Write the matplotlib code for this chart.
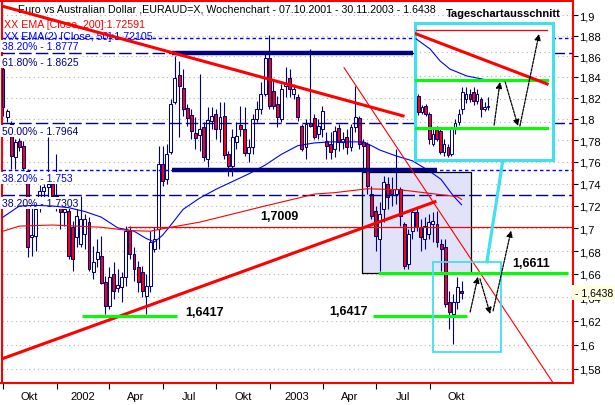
import numpy as np
import pandas as pd
import matplotlib.pyplot as plt
from matplotlib.patches import Rectangle
from matplotlib.ticker import NullLocator

plt.rcParams['font.family'] = ['Liberation Sans', 'DejaVu Sans']

start = pd.Timestamp('2001-10-01')  # first weekly candle

# weekly candles EUR/AUD
opens = [1.8478, 1.8019, 1.7953, 1.7646, 1.7794, 1.7748, 1.7518, 1.6927, 1.6936, 1.7194,
         1.7337, 1.7373, 1.7400, 1.7292, 1.7194, 1.7149, 1.7158, 1.7016, 1.6927, 1.6865,
         1.6953, 1.7060, 1.6619, 1.6733, 1.6759, 1.6532, 1.6326, 1.6602, 1.6480, 1.6489,
         1.6576, 1.6980, 1.6777, 1.6663, 1.6619, 1.6412, 1.6497, 1.6821, 1.6998, 1.7582,
         1.7445, 1.7692, 1.8161, 1.8419, 1.8294, 1.8104, 1.8038, 1.7869, 1.7850, 1.7925,
         1.7628, 1.7981, 1.8047, 1.7906, 1.8028, 1.7674, 1.7564, 1.7785, 1.7944, 1.7906,
         1.7683, 1.7739, 1.8000, 1.8095, 1.8237, 1.8584, 1.8266, 1.8142, 1.8000, 1.8314,
         1.8391, 1.8237, 1.8209, 1.7934, 1.7739, 1.7962, 1.8009, 1.7859, 1.7906, 1.7794,
         1.7766, 1.7720, 1.7915, 1.7785, 1.7831, 1.7739, 1.7925, 1.8009, 1.7785, 1.7766,
         1.7310, 1.7158, 1.6909, 1.7176, 1.7400, 1.7355, 1.7310, 1.7355, 1.7042, 1.6689,
         1.6980, 1.7149, 1.7016, 1.6909, 1.6953, 1.7042, 1.7042, 1.6865, 1.6838, 1.6360,
         1.6257, 1.6360, 1.6454]
highs = [1.8497, 1.8095, 1.7981, 1.7813, 1.7822, 1.7794, 1.7536, 1.7221, 1.7221, 1.7391,
         1.7400, 1.7831, 1.7445, 1.7674, 1.7203, 1.7203, 1.7194, 1.7069, 1.7176, 1.7292,
         1.7131, 1.7105, 1.6847, 1.6909, 1.6936, 1.6584, 1.6663, 1.6706, 1.6645, 1.6619,
         1.7024, 1.7024, 1.6838, 1.6715, 1.6671, 1.6602, 1.6980, 1.7016, 1.7748, 1.7748,
         1.7766, 1.8189, 1.8604, 1.8555, 1.8478, 1.8142, 1.8095, 1.8019, 1.8429, 1.7972,
         1.8113, 1.8113, 1.8095, 1.8161, 1.8161, 1.7702, 1.7906, 1.7972, 1.8123, 1.8113,
         1.7813, 1.8047, 1.8170, 1.8352, 1.8623, 1.8809, 1.8381, 1.8218, 1.8333, 1.8497,
         1.8478, 1.8333, 1.8237, 1.7953, 1.8000, 1.8672, 1.8047, 1.8000, 1.8123, 1.7878,
         1.7878, 1.7934, 1.7953, 1.7878, 1.7906, 1.7953, 1.8314, 1.8028, 1.7813, 1.7785,
         1.7382, 1.7203, 1.7238, 1.7472, 1.7463, 1.7463, 1.7720, 1.7373, 1.7060, 1.6998,
         1.7176, 1.7203, 1.7087, 1.7105, 1.7131, 1.7149, 1.7158, 1.6909, 1.6909, 1.6454,
         1.6429, 1.6576, 1.6541]
lows = [1.8028, 1.7972, 1.7536, 1.7536, 1.7702, 1.7527, 1.6750, 1.6759, 1.6803, 1.7149,
        1.7265, 1.7283, 1.7265, 1.7158, 1.6998, 1.7024, 1.6733, 1.6628, 1.6838, 1.6838,
        1.6821, 1.6628, 1.6558, 1.6663, 1.6515, 1.6257, 1.6300, 1.6386, 1.6446, 1.6360,
        1.6497, 1.6733, 1.6541, 1.6446, 1.6403, 1.6257, 1.6446, 1.6794, 1.6821, 1.7382,
        1.7400, 1.7674, 1.8142, 1.7831, 1.8028, 1.7934, 1.7813, 1.7720, 1.7702, 1.7608,
        1.7553, 1.7906, 1.7813, 1.7785, 1.7628, 1.7472, 1.7472, 1.7720, 1.7841, 1.7655,
        1.7600, 1.7674, 1.7972, 1.8047, 1.8218, 1.8095, 1.8095, 1.7925, 1.7972, 1.8209,
        1.8209, 1.8189, 1.7981, 1.7702, 1.7628, 1.7925, 1.7813, 1.7813, 1.7831, 1.7628,
        1.7628, 1.7646, 1.7702, 1.7720, 1.7674, 1.7702, 1.7878, 1.7720, 1.7518, 1.7310,
        1.7087, 1.6803, 1.6628, 1.7060, 1.7176, 1.7203, 1.7221, 1.7024, 1.6645, 1.6645,
        1.6909, 1.6980, 1.6803, 1.6821, 1.6909, 1.6882, 1.6838, 1.6628, 1.6317, 1.6130,
        1.6003, 1.6300, 1.6386]
closes = [1.8113, 1.8076, 1.7655, 1.7785, 1.7739, 1.7545, 1.6838, 1.6944, 1.7176, 1.7337,
          1.7373, 1.7400, 1.7292, 1.7194, 1.7149, 1.7176, 1.6759, 1.6733, 1.7113, 1.7087,
          1.7087, 1.6645, 1.6706, 1.6794, 1.6523, 1.6326, 1.6576, 1.6454, 1.6506, 1.6576,
          1.6980, 1.6777, 1.6645, 1.6532, 1.6454, 1.6497, 1.6882, 1.6909, 1.7582, 1.7427,
          1.7674, 1.8142, 1.8391, 1.8314, 1.8095, 1.8009, 1.7887, 1.7822, 1.7906, 1.7646,
          1.7991, 1.8028, 1.7906, 1.8019, 1.7665, 1.7564, 1.7831, 1.7841, 1.7906, 1.7683,
          1.7739, 1.8000, 1.8095, 1.8237, 1.8584, 1.8123, 1.8123, 1.8019, 1.8285, 1.8333,
          1.8285, 1.8285, 1.8019, 1.7720, 1.7953, 1.7934, 1.7831, 1.7934, 1.8076, 1.7748,
          1.7692, 1.7887, 1.7785, 1.7813, 1.7739, 1.7925, 1.8019, 1.7766, 1.7748, 1.7382,
          1.7113, 1.6936, 1.7131, 1.7418, 1.7283, 1.7310, 1.7355, 1.7113, 1.6671, 1.6953,
          1.7149, 1.7016, 1.6927, 1.7024, 1.7060, 1.7069, 1.6882, 1.6821, 1.6343, 1.6274,
          1.6360, 1.6489, 1.6438]

# EMA lines (week index, value)
ema50_weeks = [0, 4, 8, 12, 16, 20, 24, 28, 32, 35, 37, 39, 41, 44, 48, 52, 56, 60, 64, 68,
               72, 76, 80, 84, 88, 90, 92, 96, 100, 104, 107, 110, 112]
ema50_vals = [1.710, 1.720, 1.7205, 1.720, 1.7185, 1.715, 1.710, 1.7005, 1.6975, 1.691,
              1.688, 1.694, 1.703, 1.717, 1.727, 1.735, 1.742, 1.749, 1.757, 1.767,
              1.775, 1.7775, 1.7785, 1.7785, 1.7785, 1.775, 1.771, 1.7655, 1.761, 1.752,
              1.744, 1.729, 1.7211]
ema200_weeks = [0, 4, 12, 24, 31, 36, 41, 48, 56, 64, 72, 76, 81, 89, 97, 105, 111, 112]
ema200_vals = [1.6975, 1.702, 1.703, 1.701, 1.698, 1.6975, 1.701, 1.7055, 1.7127, 1.720,
               1.727, 1.7307, 1.732, 1.7355, 1.7346, 1.731, 1.7283, 1.7259]

# Fibonacci levels
fib_levels = [1.8777, 1.8625, 1.7964, 1.753, 1.7303]
fib_labels = ['38.20% - 1.8777', '61.80% - 1.8625', '50.00% - 1.7964',
              '38.20% - 1.753', '38.20% - 1.7303']
fib_colors = ['blue', 'navy', 'navy', 'blue', 'navy']

quarter_dates = ['2001-10-01', '2002-01-01', '2002-04-01', '2002-07-01', '2002-10-01',
                 '2003-01-01', '2003-04-01', '2003-07-01', '2003-10-01']
quarter_labels = ['Okt', '2002', 'Apr', 'Jul', 'Okt', '2003', 'Apr', 'Jul', 'Okt']

ytick_vals = [1.58, 1.60, 1.62, 1.64, 1.66, 1.68, 1.70, 1.72, 1.74, 1.76, 1.78, 1.80,
              1.82, 1.84, 1.86, 1.88, 1.90]
ytick_labels = ['1,58', '1,6', '1,62', '1,64', '1,66', '1,68', '1,7', '1,72', '1,74',
                '1,76', '1,78', '1,8', '1,82', '1,84', '1,86', '1,88', '1,9']

# drawn lines (week, price)
down_thick = ([-0.73, 97.7], [1.9097, 1.8028])
up_thick = ([-0.73, 105.5], [1.5875, 1.7238])
down_thin = ([83.3, 134.3], [1.8487, 1.5686])
res_upper = ([41.3, 100.1], [1.8625, 1.8625])
res_lower = ([41.3, 106.0], [1.753, 1.753])
line_7009 = ([30.5, 139.5], [1.7009, 1.7009])
green_left = ([19.3, 42.5], [1.624, 1.624])
green_mid = ([90.4, 113.3], [1.624, 1.624])
green_top = ([91.6, 138.0], [1.661, 1.661])
connector = ([118.2, 122.1], [1.6706, 1.7618])
main_arrows = [((114.1, 1.6274), (116.0, 1.6576)),
               ((116.5, 1.6558), (119.0, 1.6257)),
               ((119.7, 1.6283), (124.1, 1.6980))]

# daily cut-out (Tageschart)
d_open = [1.6546, 1.6482, 1.6506, 1.6474, 1.6352, 1.6413, 1.6405, 1.6320, 1.6340, 1.6312,
          1.6413, 1.6441, 1.6494, 1.6534, 1.6554, 1.6563, 1.6526, 1.6534, 1.6494, 1.6502]
d_high = [1.6554, 1.6510, 1.6514, 1.6482, 1.6413, 1.6425, 1.6421, 1.6373, 1.6352, 1.6421,
          1.6453, 1.6494, 1.6583, 1.6583, 1.6575, 1.6583, 1.6575, 1.6542, 1.6522, 1.6542]
d_low = [1.6470, 1.6474, 1.6466, 1.6352, 1.6344, 1.6365, 1.6312, 1.6304, 1.6300, 1.6304,
         1.6393, 1.6429, 1.6474, 1.6518, 1.6522, 1.6510, 1.6514, 1.6461, 1.6486, 1.6490]
d_close = [1.6482, 1.6502, 1.6474, 1.6373, 1.6393, 1.6373, 1.6320, 1.6352, 1.6308, 1.6413,
           1.6437, 1.6474, 1.6563, 1.6554, 1.6534, 1.6526, 1.6554, 1.6494, 1.6502, 1.6506]
d_blue_x = [-0.6, 3.2, 5.9, 8.6, 13.2, 18.7]
d_blue_y = [1.6777, 1.6736, 1.6688, 1.6655, 1.6627, 1.6611]
d_arrows = [((20.6, 1.6429), (22.2, 1.6603)),
            ((23.6, 1.6603), (27.1, 1.6425)),
            ((27.6, 1.6425), (32.8, 1.6797))]

NAVY = '#000080'
CYAN = '#3fe0f0'
W, H = 615, 406


def fpos(x, y):
    return x / W, 1 - y / H


fig = plt.figure(figsize=(6.15, 4.06), dpi=100)
ax = fig.add_axes([1.5 / W, 22.5 / H, 571 / W, 382 / H])
ax.set_yscale('log')
ax.set_xlim(-0.37, 139.1)
ax.set_ylim(1.5686, 1.9147)

# candles
x = np.arange(len(opens))
o = np.array(opens); c = np.array(closes)
ax.vlines(x, lows, highs, color=NAVY, lw=0.8, zorder=2)
cols = np.where(c < o, 'red', 'white')
ax.bar(x, np.maximum(np.abs(c - o), 0.0004), bottom=np.minimum(o, c), width=0.72,
       color=cols, edgecolor=NAVY, lw=0.75, zorder=3)

# grid
for v in ytick_vals:
    ax.axhline(v, color='#b4b4b4', lw=0.8, ls=(0, (1, 3)), zorder=0)

# shaded box
ax.add_patch(Rectangle((87.7, 1.661), 114.3 - 87.7, 1.7507 - 1.661, facecolor='#e2e2f8',
                       edgecolor='black', lw=0.9, zorder=1))

# fib lines + labels
for lv, lab, col in zip(fib_levels, fib_labels, fib_colors):
    ls = (0, (2.5, 2)) if col == 'blue' else (0, (9, 3))
    ax.axhline(lv, color=col, lw=1.0, ls=ls, zorder=4)
    ax.annotate(lab, xy=(-0.3, lv), xytext=(0, -6), textcoords='offset points',
                ha='left', va='center', fontsize=7.5, color=col, zorder=3.5,
                bbox=dict(boxstyle='square,pad=0.12', fc='white', ec='none'))

# EMAs
ax.plot(ema50_weeks, ema50_vals, color='blue', lw=0.8, zorder=4.5)
ax.plot(ema200_weeks, ema200_vals, color='red', lw=0.8, zorder=4.5)

# drawn lines
ax.plot(*res_upper, color=NAVY, lw=3.2, solid_capstyle='butt', zorder=5)
ax.plot(*res_lower, color=NAVY, lw=3.2, solid_capstyle='butt', zorder=5)
ax.plot(*line_7009, color='red', lw=0.9, zorder=5)
ax.plot(*down_thick, color='red', lw=2.2, zorder=6)
ax.plot(*up_thick, color='red', lw=2.2, zorder=6)
ax.plot(*down_thin, color='red', lw=0.8, zorder=6)
for gl in (green_left, green_mid, green_top):
    ax.plot(*gl, color='#00ff00', lw=2.2, solid_capstyle='butt', zorder=6)

ax.add_patch(Rectangle((105.0, 1.5941), 121.6 - 105.0, 1.6706 - 1.5941, fill=False,
                       edgecolor=CYAN, lw=1.3, zorder=7))
ax.plot(*connector, color=CYAN, lw=2.3, zorder=7, clip_on=False)

for a, b in main_arrows:
    ax.annotate('', xy=b, xytext=a,
                arrowprops=dict(arrowstyle='-|>', color='black', lw=0.9, ls=(0, (2, 1)),
                                mutation_scale=9, shrinkA=0, shrinkB=0), zorder=8)

for txt, xx, yy in [('1,7009', 67.4, 1.7113), ('1,6417', 49.1, 1.6274),
                    ('1,6417', 84.5, 1.6283), ('1,6611', 129.0, 1.6697)]:
    ax.text(xx, yy, txt, fontsize=9, fontweight='bold', ha='center', va='center', zorder=8)

# header texts (under the trend line)
ax.text(*fpos(18, 10), 'Euro vs Australian Dollar ,EURAUD=X, Wochenchart - 07.10.2001 - 30.11.2003 - 1.6438',
        transform=fig.transFigure, fontsize=7.7, va='center', ha='left', zorder=1)
ax.text(*fpos(4, 25), 'XX EMA [Close, 200]:1.72591', transform=fig.transFigure,
        fontsize=7.7, color='red', va='center', ha='left', zorder=1)
ax.text(*fpos(4, 37), 'XX EMA(2) [Close, 50]:1.72105', transform=fig.transFigure,
        fontsize=7.7, color='blue', va='center', ha='left', zorder=1)

# axes styling
for s in ax.spines.values():
    s.set_color('red')
    s.set_linewidth(1.5)
ax.yaxis.tick_right()
ax.yaxis.set_minor_locator(NullLocator())
ax.set_yticks(ytick_vals)
ax.set_yticklabels(ytick_labels)
ax.tick_params(axis='y', which='major', length=3.5, pad=1.5, labelsize=8, color='black')

qpos = [(pd.Timestamp(d) - start).days / 7 for d in quarter_dates]
lpos = [(pd.Timestamp(d) + pd.Timedelta(days=45) - start).days / 7 for d in quarter_dates]
ax.set_xticks(qpos)
ax.set_xticklabels([])
ax.set_xticks(lpos, minor=True)
ax.set_xticklabels(quarter_labels, minor=True)
ax.tick_params(axis='x', which='major', length=4, color='black', direction='out')
ax.tick_params(axis='x', which='minor', length=0, pad=6, labelsize=8)

# current price tag
ax.annotate('- 1,6438', xy=(1, closes[-1]), xycoords=('axes fraction', 'data'),
            xytext=(1.5, 0), textcoords='offset points', ha='left', va='center', fontsize=7.5,
            bbox=dict(boxstyle='square,pad=0.25', fc='#ffffe1', ec='none'),
            annotation_clip=False, zorder=10)

# inset daily chart
axi = fig.add_axes([415 / W, 1 - 161 / H, 138 / W, 137 / H])
axi.set_xlim(-0.9, 36.6)
axi.set_ylim(1.6288, 1.6841)
axi.set_facecolor('white')
for v in [1.6724, 1.6627, 1.6534, 1.6441]:
    axi.axhline(v, color='#b4b4b4', lw=0.8, ls=(0, (1, 3)), zorder=0)
dx = np.arange(len(d_open))
do = np.array(d_open); dc = np.array(d_close)
axi.vlines(dx, d_low, d_high, color=NAVY, lw=0.8, zorder=2)
axi.bar(dx, np.maximum(np.abs(dc - do), 0.0002), bottom=np.minimum(do, dc), width=0.68,
        color=np.where(dc < do, 'red', 'white'), edgecolor=NAVY, lw=0.7, zorder=3)
axi.plot([-0.6, 35.0], [1.6813, 1.6813], color='red', lw=0.9, zorder=4)
axi.plot([-0.6, 35.0], [1.6797, 1.6595], color='red', lw=2.2, zorder=5)
axi.plot(d_blue_x, d_blue_y, color='blue', lw=0.8, zorder=4)
axi.plot([-0.6, 35.0], [1.6611, 1.6611], color='#00ff00', lw=2.2, zorder=4)
axi.plot([-0.6, 35.0], [1.6417, 1.6417], color='#00ff00', lw=2.2, zorder=4)
for a, b in d_arrows:
    axi.annotate('', xy=b, xytext=a,
                 arrowprops=dict(arrowstyle='-|>', color='black', lw=0.9, ls=(0, (2, 1)),
                                 mutation_scale=9, shrinkA=0, shrinkB=0), zorder=8)
axi.set_xticks([])
axi.set_yticks([])
for s in axi.spines.values():
    s.set_color(CYAN)
    s.set_linewidth(2.2)

fig.text(*fpos(503, 14), 'Tageschartausschnitt', fontsize=8, fontweight='bold',
         ha='center', va='center')

fig.savefig('out.png', dpi=100)
